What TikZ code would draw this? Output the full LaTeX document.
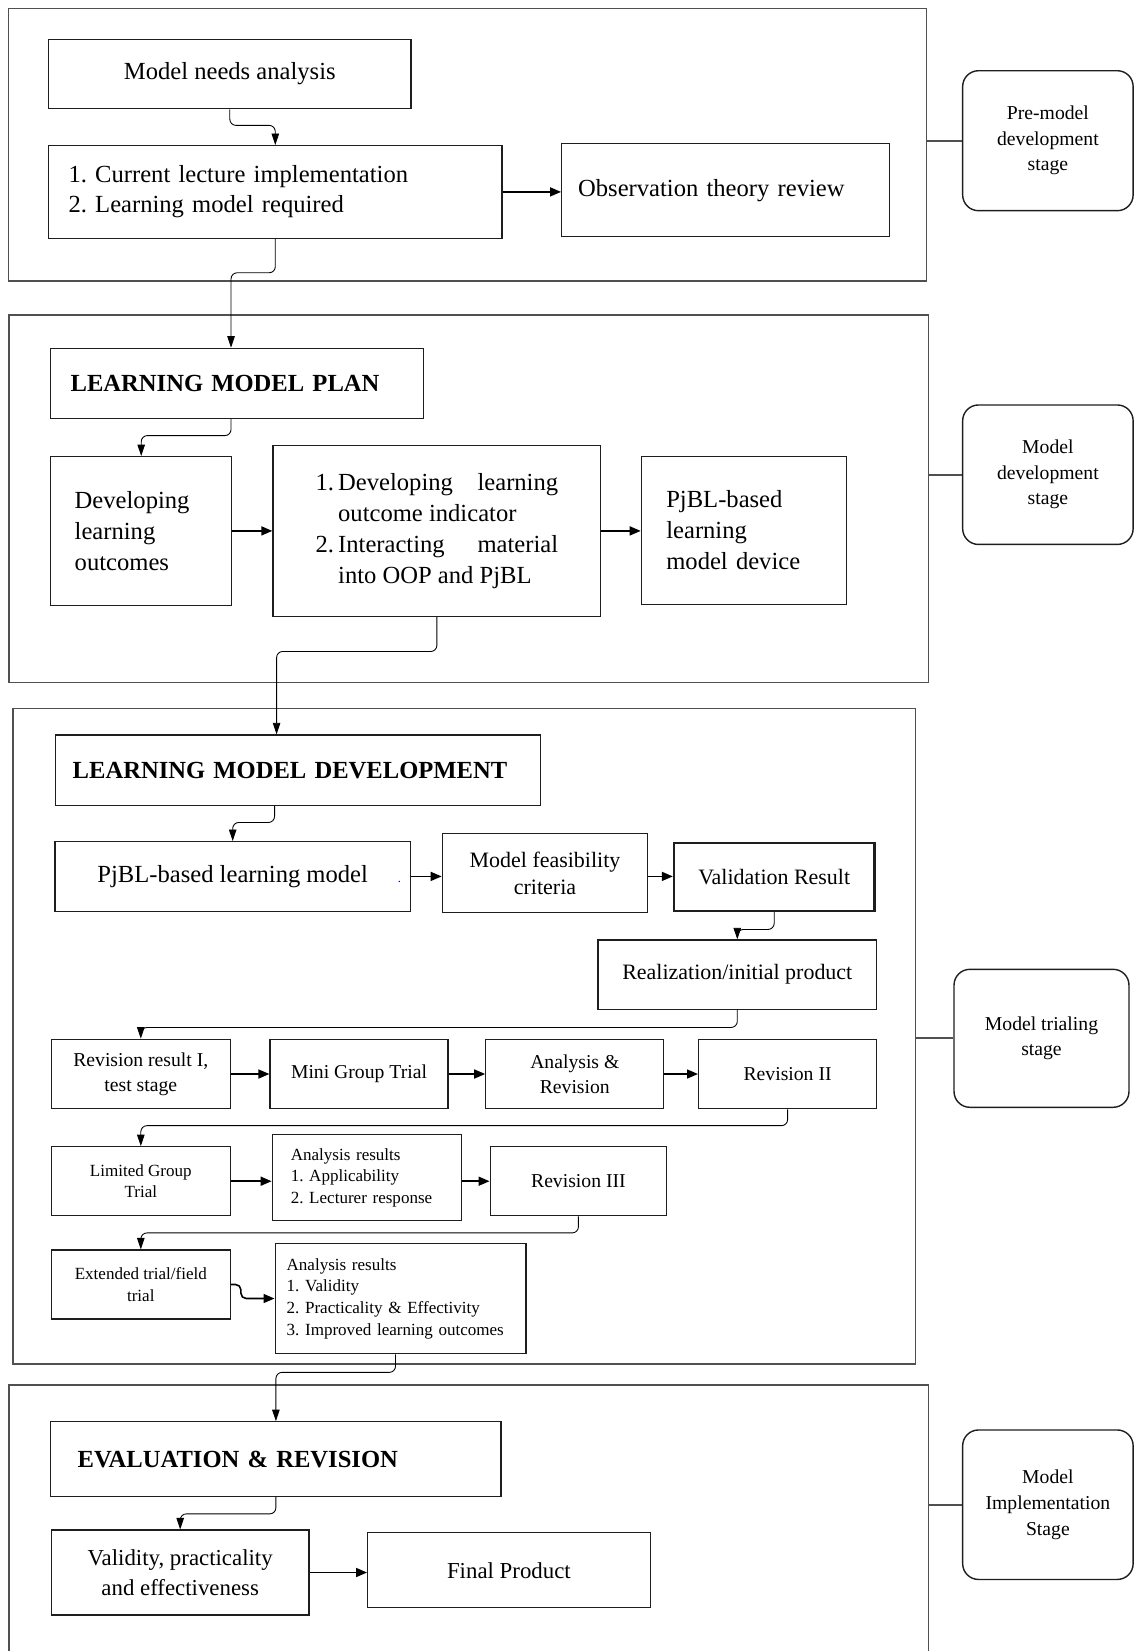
\documentclass[tikz,border=0pt]{standalone}
\usepackage{fontspec}
\setmainfont{Liberation Serif}
\usetikzlibrary{arrows.meta,positioning,calc}
\definecolor{framegray}{HTML}{505050}
\definecolor{boxline}{HTML}{1E1E1E}
\frenchspacing
\begin{document}
\begin{tikzpicture}[x=0.02cm,y=-0.02cm,>=Latex,
  frame/.style={draw=framegray,line width=0.9pt,inner sep=0pt},
  box/.style={draw=boxline,line width=0.7pt,align=center,inner sep=2pt},
  lbox/.style={box,align=left},
  stagebox/.style={draw=boxline,line width=0.8pt,rounded corners=9pt,align=center,
    minimum width=3.41cm,font=\fontsize{11.2}{14.5}\selectfont},
  bigtxt/.style={font=\fontsize{14}{17.3}\selectfont},
  midtxt/.style={font=\fontsize{12.5}{15.5}\selectfont},
  rowtxt/.style={font=\fontsize{11.2}{14.3}\selectfont},
  smalltxt/.style={font=\fontsize{9.7}{12.3}\selectfont},
  headtxt/.style={font=\fontsize{14}{17}\selectfont\bfseries},
  flow/.style={-{Triangle[length=2.3mm,width=1.5mm]},line width=0.5pt,rounded corners=3.5pt},
  link/.style={-{Triangle[length=2.2mm,width=1.8mm]},line width=0.9pt},
  tie/.style={draw=framegray,line width=1.1pt}]
\useasboundingbox (0,0) rectangle (1135,1651);

% stage frames
\node[frame,minimum width=18.36cm,minimum height=5.45cm] (f1) at (467.6,144.7) {};
\node[frame,minimum width=18.40cm,minimum height=7.35cm] (f2) at (468.7,498.9) {};
\node[frame,minimum width=18.05cm,minimum height=13.12cm] (f3) at (464.4,1036.3) {};
\node[frame,minimum width=18.40cm,minimum height=6.30cm] (f4) at (468.7,1542.5) {};

% stage labels
\node[stagebox,minimum height=2.80cm] (st1) at (1047.9,140.7) {Pre-model\\development\\stage};
\node[stagebox,minimum height=2.79cm] (st2) at (1047.9,474.7) {Model\\development\\stage};
\node[stagebox,minimum width=3.50cm,minimum height=2.76cm] (st3) at (1041.5,1038.3) {Model trialing\\stage};
\node[stagebox,minimum height=2.99cm,font=\fontsize{11.2}{14.9}\selectfont] (st4) at (1047.9,1504.7) {Model\\Implementation\\Stage};
\draw[tie] (st1.west -| f1.east) -- (st1.west);
\draw[tie] (st2.west -| f2.east) -- (st2.west);
\draw[tie] (st3.west -| f3.east) -- (st3.west);
\draw[tie] (st4.west -| f4.east) -- (st4.west);

% pre-model development
\node[box,bigtxt,minimum width=7.25cm,minimum height=1.39cm] (needs) at (229.8,74) {Model needs analysis};
\node[lbox,bigtxt,text width=8.27cm,inner xsep=0.4cm,minimum height=1.85cm] (current) at (275.3,191.9)
  {1. Current lecture implementation\\2. Learning model required};
\node[lbox,bigtxt,text width=5.89cm,inner xsep=0.33cm,minimum height=1.86cm] (obs) at (725.4,190.2)
  {Observation theory review};
\draw[flow] (needs.south) -- ++(0,16) -| (current.north);
\draw[link] (current.east) -- (current.east -| obs.west);

% model development
\node[lbox,headtxt,text width=6.66cm,inner xsep=0.4cm,minimum height=1.40cm] (plan) at (237.1,383.3) {LEARNING MODEL PLAN};
\node[lbox,font=\fontsize{14}{17.6}\selectfont,text width=2.66cm,inner xsep=0.48cm,minimum height=2.97cm] (outcomes) at (141.2,530.9)
  {Developing\\learning\\outcomes};
\node[box,font=\fontsize{14}{17.6}\selectfont,minimum width=6.56cm,minimum height=3.41cm] (indicator) at (436.9,530.9)
  {\begin{tabular}{@{}l@{\,}p{4.4cm}@{}}1.&Developing\hfill learning\\&outcome indicator\\2.&Interacting\hfill material\\&into OOP and PjBL\end{tabular}};
\node[lbox,font=\fontsize{14}{17.6}\selectfont,text width=3.10cm,inner xsep=0.5cm,minimum height=2.95cm] (device) at (743.8,530.4)
  {PjBL-based\\learning\\model device};
\draw[flow] (current.south) -- ++(0,34) -| ($(plan.north west)+(181,0)$);
\draw[flow] ($(plan.south west)+(181,0)$) -- ++(0,16.7) -| (outcomes.north);
\draw[link] (outcomes.east) -- (outcomes.east -| indicator.west);
\draw[link] (indicator.east) -- (indicator.east -| device.west);

% model trialing
\node[lbox,headtxt,text width=9.01cm,inner xsep=0.35cm,minimum height=1.41cm] (lmd) at (297.9,770.2) {LEARNING MODEL DEVELOPMENT};
\node[box,bigtxt,minimum width=7.11cm,minimum height=1.39cm] (pjblmodel) at (232.7,876.4)
  {PjBL-based learning model\rlap{\hspace{0.6cm}\textcolor{blue!60!black}{\scriptsize .}}};
\node[box,midtxt,minimum width=4.11cm,minimum height=1.59cm] (feas) at (545,873) {Model feasibility\\criteria};
\node[box,midtxt,line width=1.3pt,minimum width=4.01cm,minimum height=1.36cm] (valid) at (774.2,876.7) {Validation Result};
\node[box,midtxt,minimum width=5.57cm,minimum height=1.39cm] (realiz) at (737.3,974.7) {Realization/initial product};
\node[box,rowtxt,minimum width=3.58cm,minimum height=1.39cm] (rev1) at (140.8,1074) {Revision result I,\\test stage};
\node[box,rowtxt,minimum width=3.56cm,minimum height=1.39cm] (mini) at (359,1074) {Mini Group Trial};
\node[box,rowtxt,minimum width=3.56cm,minimum height=1.39cm] (anrev) at (574.8,1074) {Analysis \&\\Revision};
\node[box,rowtxt,minimum width=3.56cm,minimum height=1.39cm] (rev2) at (787.6,1074) {Revision II};
\node[box,smalltxt,minimum width=3.58cm,minimum height=1.38cm] (limited) at (140.8,1181.2) {Limited Group\\Trial};
\node[lbox,smalltxt,text width=3.05cm,inner xsep=0.37cm,minimum height=1.73cm] (anres1) at (367,1177.5)
  {Analysis results\\1. Applicability\\2. Lecturer response};
\node[box,rowtxt,minimum width=3.53cm,minimum height=1.38cm] (rev3) at (578.4,1181.2) {Revision III};
\node[box,smalltxt,minimum width=3.58cm,minimum height=1.38cm] (extended) at (140.8,1284.5) {Extended trial/field\\trial};
\node[lbox,smalltxt,text width=4.56cm,inner xsep=0.23cm,minimum height=2.21cm] (anres2) at (400.6,1298.5)
  {Analysis results\\1. Validity\\2. Practicality \& Effectivity\\3. Improved learning outcomes};
\draw[flow] (indicator.south) -- ++(0,34.7) -| ($(lmd.north west)+(222,0)$);
\draw[flow] ($(lmd.south west)+(220,0)$) -- ++(0,16.4) -| (pjblmodel.north);
\draw[link] (pjblmodel.east) -- (pjblmodel.east -| feas.west);
\draw[link] (pjblmodel.east -| feas.east) -- (pjblmodel.east -| valid.west);
\draw[flow] (valid.south) -- ++(0,17.6) -| (realiz.north);
\draw[flow] (realiz.south) -- ++(0,17.4) -| (rev1.north);
\draw[link] (rev1.east) -- (mini.west);
\draw[link] (mini.east) -- (anrev.west);
\draw[link] (anrev.east) -- (rev2.west);
\draw[flow] (rev2.south) -- ++(0,16.3) -| (limited.north);
\draw[link] (limited.east) -- (limited.east -| anres1.west);
\draw[link] (limited.east -| anres1.east) -- (rev3.west);
\draw[flow] (rev3.south) -- ++(0,16.6) -| (extended.north);
\draw[link,rounded corners=3pt] (extended.east) -- ++(10,0) |- (anres2.west);

% model implementation
\node[lbox,headtxt,text width=7.93cm,inner xsep=0.54cm,minimum height=1.49cm] (eval) at (275.9,1459) {EVALUATION \& REVISION};
\node[box,font=\fontsize{13}{17.3}\selectfont,minimum width=5.15cm,minimum height=1.70cm] (validity) at (180.2,1572.5)
  {Validity, practicality\\and effectiveness};
\node[box,font=\fontsize{13}{17.3}\selectfont,minimum width=5.65cm,minimum height=1.50cm] (final) at (508.9,1570.2) {Final Product};
\draw[flow] ($(anres2.south west)+(121,0)$) -- ++(0,18) -| (eval.north);
\draw[flow] (eval.south) -- ++(0,17) -| (validity.north);
\draw[link] (validity.east) -- (validity.east -| final.west);
\end{tikzpicture}
\end{document}
